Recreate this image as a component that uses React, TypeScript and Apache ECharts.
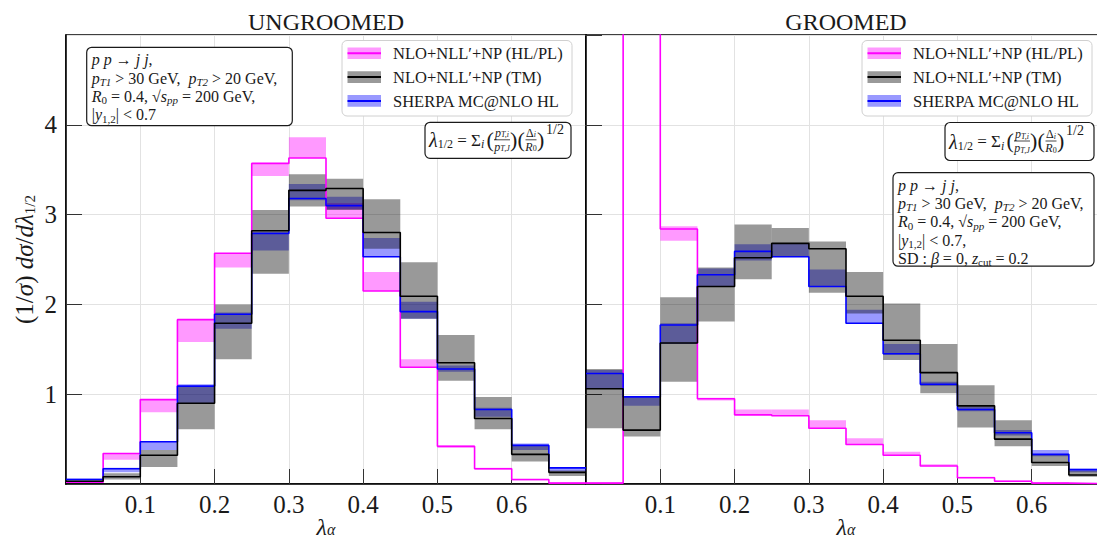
import React, { useEffect, useRef } from 'react';
import * as echarts from 'echarts';

// ---------- data ----------
const binEdges = [0, 0.05, 0.1, 0.15, 0.2, 0.25, 0.3, 0.35, 0.4, 0.45, 0.5, 0.55, 0.6, 0.65, 0.7];

// UNGROOMED
const ugHL = [0.02, 0.34, 0.94, 1.83, 2.57, 3.57, 3.63, 2.96, 2.15, 1.30, 0.42, 0.17, 0.05, 0.01];
const ugHLLo = [0.01, 0.27, 0.80, 1.58, 2.41, 3.43, 3.63, 2.96, 2.15, 1.30, 0.40, 0.16, 0.04, 0.01];
const ugHLHi = [0.03, 0.34, 0.94, 1.83, 2.57, 3.57, 3.86, 3.13, 2.36, 1.39, 0.43, 0.18, 0.05, 0.02];

const ugTM = [0.03, 0.08, 0.32, 0.90, 1.79, 2.82, 3.27, 3.29, 2.80, 2.09, 1.35, 0.73, 0.33, 0.13];
const ugTMLo = [0.01, 0.05, 0.19, 0.61, 1.39, 2.34, 3.09, 3.05, 2.62, 1.84, 1.15, 0.61, 0.25, 0.09];
const ugTMHi = [0.04, 0.12, 0.38, 1.09, 2.00, 3.05, 3.45, 3.40, 3.17, 2.47, 1.66, 0.97, 0.43, 0.15];

const ugSH = [0.05, 0.17, 0.47, 1.09, 1.89, 2.79, 3.18, 3.10, 2.53, 1.92, 1.28, 0.83, 0.43, 0.18];
const ugSHLo = [0.04, 0.13, 0.38, 0.90, 1.73, 2.60, 3.16, 3.06, 2.53, 1.84, 1.25, 0.75, 0.38, 0.14];
const ugSHHi = [0.06, 0.18, 0.48, 1.11, 1.91, 2.81, 3.34, 3.20, 2.74, 2.03, 1.32, 0.85, 0.45, 0.19];

// GROOMED
const grHL = [0.01, 8.0, 2.84, 0.95, 0.77, 0.76, 0.62, 0.44, 0.32, 0.20, 0.07, 0.03, 0.01, 0.005];
const grHLLo = [0.0, 7.8, 2.71, 0.93, 0.77, 0.76, 0.62, 0.44, 0.32, 0.20, 0.07, 0.03, 0.01, 0.0];
const grHLHi = [0.02, 8.2, 2.87, 0.96, 0.83, 0.83, 0.71, 0.51, 0.36, 0.22, 0.08, 0.04, 0.02, 0.01];

const grTM = [1.06, 0.60, 1.57, 2.20, 2.52, 2.68, 2.62, 2.09, 1.60, 1.24, 0.87, 0.50, 0.24, 0.10];
const grTMLo = [0.62, 0.53, 1.14, 1.81, 2.28, 2.53, 2.13, 1.90, 1.38, 1.01, 0.63, 0.42, 0.20, 0.08];
const grTMHi = [1.28, 0.97, 2.08, 2.41, 2.89, 2.85, 2.70, 2.36, 2.01, 1.56, 1.10, 0.71, 0.33, 0.15];

const grSH = [1.23, 0.97, 1.77, 2.33, 2.59, 2.53, 2.20, 1.79, 1.45, 1.11, 0.83, 0.57, 0.33, 0.16];
const grSHLo = [1.06, 0.87, 1.56, 2.20, 2.49, 2.53, 2.20, 1.79, 1.44, 1.09, 0.81, 0.54, 0.31, 0.13];
const grSHHi = [1.27, 0.97, 1.79, 2.40, 2.67, 2.68, 2.39, 1.94, 1.56, 1.14, 0.86, 0.60, 0.38, 0.17];

// texts
const panelTitles = ['UNGROOMED', 'GROOMED'];
const legendNames = ['NLO+NLL\u2032+NP (HL/PL)', 'NLO+NLL\u2032+NP (TM)', 'SHERPA MC@NLO HL'];
const infoLinesUG = [
  '{i|p p} \u2192 {i|j j},',
  '{i|p}{s|T1} > 30 GeV,  {i|p}{s|T2} > 20 GeV,',
  '{i|R}{sr|0} = 0.4, \u221A{i|s}{s|pp} = 200 GeV,',
  '|{i|y}{sr|1,2}| < 0.7',
];
const infoLinesGR = [
  '{i|p p} \u2192 {i|j j},',
  '{i|p}{s|T1} > 30 GeV,  {i|p}{s|T2} > 20 GeV,',
  '{i|R}{sr|0} = 0.4, \u221A{i|s}{s|pp} = 200 GeV,',
  '|{i|y}{sr|1,2}| < 0.7,',
  'SD : {i|\u03B2} = 0, {i|z}{sr|cut} = 0.2',
];

// ---------- style ----------
const FONT = "'Liberation Serif', 'DejaVu Serif', serif";
const TXT = '#1a1a1a';
const MAG = '#ff00ff';
const BLK = '#000000';
const BLU = '#0000ff';
const MAG_BAND = 'rgba(255,0,255,0.4)';
const BLK_BAND = 'rgba(0,0,0,0.4)';
const BLU_BAND = 'rgba(0,0,255,0.4)';

const bandData = (lo: number[], hi: number[]) =>
  lo.map((l, i) => [binEdges[i], binEdges[i + 1], l, hi[i]]);
const stepData = (v: number[]) =>
  binEdges.map((e, i) => [e, v[Math.min(i, v.length - 1)]]);

function bandSeries(idx: number, lo: number[], hi: number[], color: string) {
  return {
    type: 'custom',
    xAxisIndex: idx,
    yAxisIndex: idx,
    clip: true,
    silent: true,
    encode: { x: [0, 1], y: [2, 3] },
    data: bandData(lo, hi),
    renderItem: (params: any, api: any) => {
      const p0 = api.coord([api.value(0), api.value(3)]);
      const p1 = api.coord([api.value(1), api.value(2)]);
      return {
        type: 'rect',
        shape: { x: p0[0], y: p0[1], width: p1[0] - p0[0], height: p1[1] - p0[1] },
        style: { fill: color },
      };
    },
  };
}

function lineSeries(idx: number, name: string, v: number[], color: string) {
  return {
    type: 'line',
    name,
    xAxisIndex: idx,
    yAxisIndex: idx,
    step: 'end',
    symbol: 'none',
    showSymbol: false,
    clip: true,
    silent: true,
    emphasis: { disabled: true },
    lineStyle: { color, width: 1.6 },
    data: stepData(v),
  };
}

const subRich = {
  i: { fontStyle: 'italic', fontFamily: FONT, fontSize: 16, color: TXT },
  s: { fontStyle: 'italic', fontFamily: FONT, fontSize: 11, color: TXT, verticalAlign: 'bottom', lineHeight: 9 },
  sr: { fontFamily: FONT, fontSize: 11, color: TXT, verticalAlign: 'bottom', lineHeight: 9 },
  r: { fontFamily: FONT, fontSize: 16, color: TXT },
};

function txt(x: number, y: number, text: string, size: number, opts: any = {}) {
  return {
    type: 'text',
    z: 100,
    silent: true,
    style: {
      x, y, text,
      fontFamily: FONT,
      fontSize: size,
      fill: TXT,
      textAlign: opts.align || 'left',
      textVerticalAlign: opts.valign || 'middle',
      fontStyle: opts.italic ? 'italic' : 'normal',
      lineHeight: opts.lineHeight,
      rich: opts.rich,
    },
  };
}

function rbox(x: number, y: number, w: number, h: number, stroke: string, lw: number) {
  return {
    type: 'rect',
    z: 99,
    silent: true,
    shape: { x, y, width: w, height: h, r: 5 },
    style: { fill: '#ffffff', stroke, lineWidth: lw },
  };
}

function legendEls(bx: number, by: number) {
  const els: any[] = [rbox(bx, by, 230, 75.5, '#d0d0d0', 1)];
  const rows = [
    { band: MAG_BAND, line: MAG },
    { band: BLK_BAND, line: BLK },
    { band: BLU_BAND, line: BLU },
  ];
  rows.forEach((r, i) => {
    const cy = by + 12.8 + i * 23.8;
    els.push({ type: 'rect', z: 100, silent: true, shape: { x: bx + 5.5, y: cy - 5.8, width: 33.5, height: 11.6 }, style: { fill: r.band } });
    els.push({ type: 'line', z: 101, silent: true, shape: { x1: bx + 5.5, y1: cy, x2: bx + 39, y2: cy }, style: { stroke: r.line, lineWidth: 2 } });
    els.push(txt(bx + 51, cy + 0.5, legendNames[i], 16.5));
  });
  return els;
}

function formulaEls(bx: number, by: number, w: number, h: number) {
  const cy = by + h / 2 - 1;
  const fr = {
    i: { fontStyle: 'italic', fontFamily: FONT, fontSize: 12, color: TXT },
    r: { fontFamily: FONT, fontSize: 12, color: TXT },
    s: { fontStyle: 'italic', fontFamily: FONT, fontSize: 8, color: TXT, verticalAlign: 'bottom', lineHeight: 6 },
    sr: { fontFamily: FONT, fontSize: 8, color: TXT, verticalAlign: 'bottom', lineHeight: 6 },
  };
  const lead = {
    l: { fontStyle: 'italic', fontFamily: FONT, fontSize: 20, color: TXT },
    s: { fontFamily: FONT, fontSize: 12, color: TXT, verticalAlign: 'bottom', lineHeight: 8 },
    si: { fontStyle: 'italic', fontFamily: FONT, fontSize: 12, color: TXT, verticalAlign: 'bottom', lineHeight: 8 },
  };
  const ln = (x1: number, x2: number) => ({ type: 'line', z: 100, silent: true, shape: { x1, y1: cy + 0.5, x2, y2: cy + 0.5 }, style: { stroke: TXT, lineWidth: 0.8 } });
  return [
    rbox(bx, by, w, h, '#1a1a1a', 1.2),
    txt(bx + 4, cy + 1, '{l|\u03BB}{s|1/2} = \u03A3{si|i}', 17, { rich: lead, lineHeight: 20 }),
    txt(bx + 61.5, cy, '(', 22),
    txt(bx + 77, cy - 6.5, '{i|p}{s|T,i}', 12, { align: 'center', rich: fr, lineHeight: 12 }),
    ln(bx + 69, bx + 85),
    txt(bx + 77, cy + 7.5, '{i|p}{s|T,J}', 12, { align: 'center', rich: fr, lineHeight: 12 }),
    txt(bx + 85, cy, ')', 22),
    txt(bx + 92.5, cy, '(', 22),
    txt(bx + 106, cy - 6.5, '{r|\u0394}{s|i}', 12, { align: 'center', rich: fr, lineHeight: 12 }),
    ln(bx + 100.5, bx + 111.5),
    txt(bx + 106, cy + 7.5, '{i|R}{sr|0}', 12, { align: 'center', rich: fr, lineHeight: 12 }),
    txt(bx + 112, cy, ')', 22),
    txt(bx + 121, cy - 10, '1/2', 14),
  ];
}

function infoEls(bx: number, by: number, w: number, h: number, lines: string[]) {
  return [
    rbox(bx, by, w, h, '#1a1a1a', 1.2),
    txt(bx + 5, by + 3.5, lines.join('\n'), 16, { valign: 'top', rich: subRich, lineHeight: 18.3 }),
  ];
}

function xAxisCfg(idx: number) {
  return {
    type: 'value',
    gridIndex: idx,
    min: 0,
    max: 0.7,
    interval: 0.1,
    name: '{i|\u03BB}{s|\u03B1}',
    nameLocation: 'middle',
    nameGap: 33,
    nameMoveOverlap: false,
    nameTextStyle: {
      fontFamily: FONT, fontSize: 24, color: TXT, lineHeight: 20,
      rich: {
        i: { fontStyle: 'italic', fontFamily: FONT, fontSize: 24, color: TXT, lineHeight: 20 },
        s: { fontStyle: 'italic', fontFamily: FONT, fontSize: 16, color: TXT, verticalAlign: 'bottom', lineHeight: 13 },
      },
    },
    axisLine: { show: true, onZero: false, lineStyle: { color: '#000', width: 1.5 } },
    axisTick: { show: true, inside: true, length: 15, lineStyle: { color: '#333', width: 1 } },
    axisLabel: {
      show: true, margin: 8, fontFamily: FONT, fontSize: 25, color: TXT,
      showMinLabel: false, showMaxLabel: false,
      formatter: (v: number) => v.toFixed(1),
    },
    splitLine: { show: true, lineStyle: { color: '#e2e2e2', width: 1 } },
  };
}

function yAxisCfg(idx: number) {
  const base: any = {
    type: 'value',
    gridIndex: idx,
    min: 0,
    max: 5,
    interval: 1,
    axisLine: { show: true, onZero: false, lineStyle: { color: '#000', width: 1.5 } },
    axisTick: { show: true, inside: true, length: 16, lineStyle: { color: '#333', width: 1 } },
    axisLabel: {
      show: idx === 0, margin: 9, fontFamily: FONT, fontSize: 25, color: TXT,
      showMinLabel: false, showMaxLabel: false,
    },
    splitLine: { show: true, lineStyle: { color: '#e2e2e2', width: 1 } },
  };
  if (idx === 0) {
    base.name = '(1/{i|\u03C3}) {i|d\u03C3}/{i|d\u03BB}{s|1/2}';
    base.nameLocation = 'middle';
    base.nameRotate = 90;
    base.nameGap = 29;
    base.nameMoveOverlap = false;
    base.nameTextStyle = {
      fontFamily: FONT, fontSize: 25, color: TXT, lineHeight: 25,
      rich: {
        i: { fontStyle: 'italic', fontFamily: FONT, fontSize: 25, color: TXT },
        s: { fontFamily: FONT, fontSize: 15, color: TXT, verticalAlign: 'bottom', lineHeight: 12 },
      },
    };
  }
  return base;
}

export default function App() {
  const ref = useRef<HTMLDivElement>(null);
  useEffect(() => {
    if (!ref.current) return;
    const chart = echarts.init(ref.current, undefined, { renderer: 'svg' });
    const gridBase = {
      top: 35, width: 520, height: 449, show: true, borderColor: '#000', borderWidth: 1.5,
      backgroundColor: 'transparent', containLabel: false, outerBoundsMode: 'none',
    };
    const option: any = {
      animation: false,
      backgroundColor: '#ffffff',
      grid: [
        { ...gridBase, left: 66 },
        { ...gridBase, left: 586 },
      ],
      xAxis: [xAxisCfg(0), xAxisCfg(1)],
      yAxis: [yAxisCfg(0), yAxisCfg(1)],
      series: [
        bandSeries(0, ugHLLo, ugHLHi, MAG_BAND),
        bandSeries(0, ugSHLo, ugSHHi, BLU_BAND),
        bandSeries(0, ugTMLo, ugTMHi, BLK_BAND),
        lineSeries(0, legendNames[0], ugHL, MAG),
        lineSeries(0, legendNames[2], ugSH, BLU),
        lineSeries(0, legendNames[1], ugTM, BLK),
        bandSeries(1, grHLLo, grHLHi, MAG_BAND),
        bandSeries(1, grSHLo, grSHHi, BLU_BAND),
        bandSeries(1, grTMLo, grTMHi, BLK_BAND),
        lineSeries(1, legendNames[0], grHL, MAG),
        lineSeries(1, legendNames[2], grSH, BLU),
        lineSeries(1, legendNames[1], grTM, BLK),
      ],
      graphic: [
        txt(326, 22, panelTitles[0], 24, { align: 'center' }),
        txt(846, 22, panelTitles[1], 24, { align: 'center' }),
        ...legendEls(342, 40.5),
        ...legendEls(862, 40.5),
        ...formulaEls(425, 122.3, 146, 36),
        ...formulaEls(945, 122.5, 149, 38),
        ...infoEls(86.7, 47.3, 205.6, 78.4, infoLinesUG),
        ...infoEls(893, 172.7, 201, 93.5, infoLinesGR),
      ],
    };
    chart.setOption(option);
    return () => chart.dispose();
  }, []);
  return (
    <div
      ref={ref}
      style={{ position: 'fixed', left: 0, top: 0, width: 1097, height: 543, overflow: 'hidden' }}
    />
  );
}
